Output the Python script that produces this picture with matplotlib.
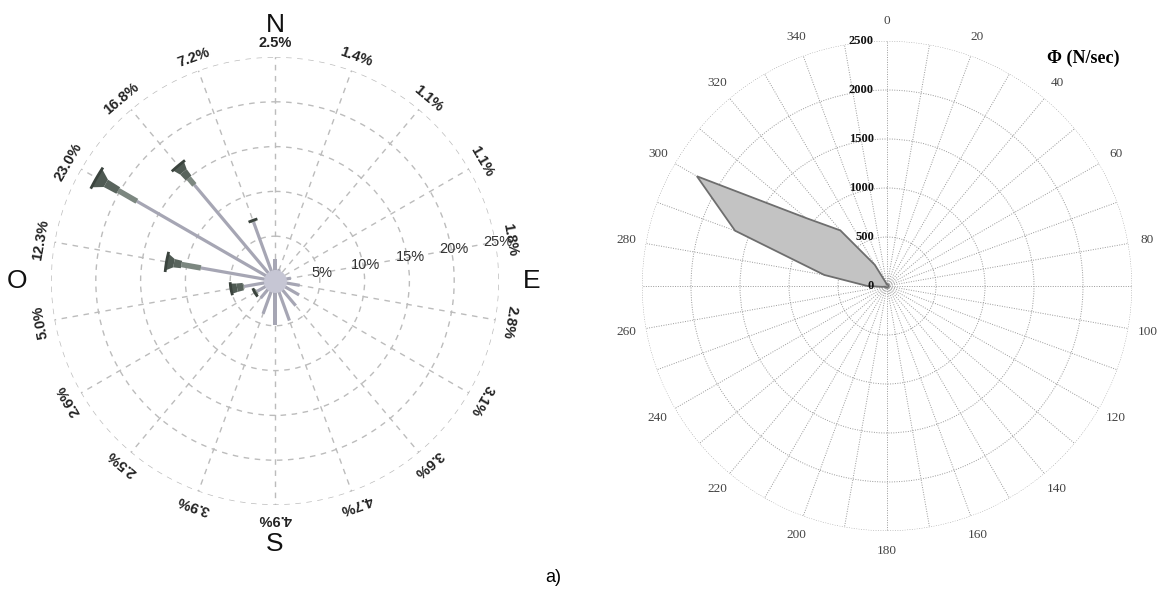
import numpy as np
import matplotlib.pyplot as plt

# left rose: 18 sectors of 20 deg, frequency in %
rose_dirs = np.arange(0, 360, 20)
rose_freq = [2.5, 1.4, 1.1, 1.1, 1.8, 2.8, 3.1, 3.6, 4.7, 4.9, 3.9, 2.5, 2.6, 5.0, 12.3, 23.0, 16.8, 7.2]
# end of the thin (low class) part and of the middle part, in %
rose_thin = [2.5, 1.4, 1.1, 1.1, 1.8, 2.8, 3.1, 3.6, 4.7, 4.9, 3.9, 2.5, 2.3, 3.5, 8.4, 17.8, 14.0, 7.0]
rose_mid = [2.5, 1.4, 1.1, 1.1, 1.8, 2.8, 3.1, 3.6, 4.7, 4.9, 3.9, 2.5, 2.4, 3.6, 10.6, 20.2, 15.0, 7.1]
ring_vals = [5, 10, 15, 20, 25]

# right rose: flux per 10 deg sector
phi_dirs = np.arange(0, 360, 10)
phi_vals = [15, 15, 15, 15, 15, 15, 15, 15, 15, 15, 15, 15,
            15, 15, 15, 15, 15, 15, 15, 15, 15, 15, 15, 15,
            15, 20, 50, 200, 650, 1650, 2240, 1080, 740, 250, 40, 15]
phi_rings = [500, 1000, 1500, 2000, 2500]
phi_labels = np.arange(0, 360, 20)

W, H = 1157, 589
fig = plt.figure(figsize=(W / 100, H / 100), dpi=100)

def polar_axes(cx, cy, r):
    return fig.add_axes([(cx - r) / W, (H - cy - r) / H, 2 * r / W, 2 * r / H], projection='polar')

# ---------------- left
R1 = 224
ax1 = polar_axes(275, 281, R1)
ax1.set_theta_zero_location('N')
ax1.set_theta_direction(-1)
ax1.set_ylim(0, 25)
ax1.set_xticks(np.deg2rad(rose_dirs))
ax1.set_xticklabels([])
ax1.set_yticks(ring_vals)
ax1.set_yticklabels([])
ax1.grid(True, color='#bcbcbc', ls=(0, (4, 4)), lw=1.0)
ax1.spines['polar'].set_visible(False)

px = 25 / R1  # % per pixel

def strip(th, r0, r1, w0, w1, color, z=4):
    # straight band of pixel width w0 -> w1 along the ray th
    rs = np.linspace(r0, r1, 12)
    hw = np.linspace(w0, w1, 12) / 2 * px
    a = np.arctan2(hw, rs)
    rr = np.hypot(rs, hw)
    ax1.fill(np.concatenate([th - a, (th + a)[::-1]]), np.concatenate([rr, rr[::-1]]),
             color=color, lw=0, zorder=z)

for d, f, t, m in zip(rose_dirs, rose_freq, rose_thin, rose_mid):
    th = np.deg2rad(d)
    strip(th, 0, t, 3.2, 3.2, '#a6a6b4', z=3)
    if f > t:
        cap = min(6 + 3 * (f - t), 22)
        fl = min(1.2, (f - m) * 0.5)
        strip(th, t, m, 5.5, 5.5, '#7c8780')
        strip(th, m, f - fl, 7.5, 8.5, '#59645d')
        strip(th, f - fl, f, 8.5, cap, '#4f5a53')
        dth = (cap / 2) * px / f
        ax1.plot(np.linspace(th - dth, th + dth, 6), [f] * 6, color='#3a433d', lw=2, zorder=5)

ax1.fill_between(np.linspace(0, 2 * np.pi, 100), 0, 1.2, color='#c6c6d4', zorder=4)

for v in ring_vals:
    ax1.text(np.deg2rad(80), v + 0.3, f'{v}%', ha='center', va='center', fontsize=10.5,
             family='Liberation Sans', color='#333333', zorder=6)

for d, f in zip(rose_dirs, rose_freq):
    ax1.text(np.deg2rad(d), 26.6, f'{f:.1f}%', ha='center', va='center', rotation=-d,
             rotation_mode='anchor', fontsize=10.5, fontweight='bold',
             family='Liberation Sans', color='#222222')

for d, s, r in zip([0, 90, 180, 270], ['N', 'E', 'S', 'O'], [28.6, 28.6, 29.3, 28.8]):
    ax1.text(np.deg2rad(d), r, s, ha='center', va='center', fontsize=19,
             family='Liberation Sans', color='#111111')

# ---------------- right
R2 = 245
ax2 = polar_axes(887, 286, R2)
ax2.set_theta_zero_location('N')
ax2.set_theta_direction(-1)
ax2.set_ylim(0, 2500)
ax2.set_xticks(np.deg2rad(phi_dirs))
ax2.set_xticklabels([])
ax2.set_yticks(phi_rings)
ax2.set_yticklabels([])
ax2.grid(True, color='#999999', ls=(0, (1, 1.5)), lw=0.7)
ax2.spines['polar'].set_visible(False)

th = np.deg2rad(np.append(phi_dirs, phi_dirs[0]))
vals = np.append(phi_vals, phi_vals[0])
ax2.fill(th, vals, facecolor='#c3c3c3', edgecolor='#6e6e6e', lw=1.3, zorder=3)

for v in [0] + phi_rings:
    ax2.annotate(str(v), xy=(0, v), xytext=(-9.5, 0), textcoords='offset points',
                 ha='right', va='center', fontsize=9, fontweight='bold',
                 family='Liberation Serif', color='#111111', zorder=6)

for d in phi_labels:
    ax2.text(np.deg2rad(d), 2700, str(d), ha='center', va='center', fontsize=9.5,
             family='Liberation Serif', color='#444444')

fig.text(1083 / W, 1 - 58 / H, 'Φ (N/sec)', ha='center', va='center', fontsize=13,
         fontweight='bold', family='Liberation Serif')
fig.text(553 / W, 1 - 577 / H, 'a)', ha='center', va='center', fontsize=13,
         family=['Liberation Sans Narrow', 'Liberation Sans'])

fig.savefig('out.png', dpi=100)
